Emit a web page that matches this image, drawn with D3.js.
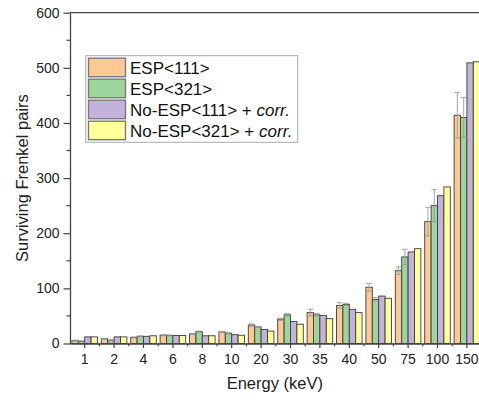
<!DOCTYPE html>
<html><head><meta charset="utf-8">
<script src="https://cdn.jsdelivr.net/npm/d3@7"></script>
<style>
html,body{margin:0;padding:0;background:#fff;}
svg{display:block;font-family:"Liberation Sans",Arial,sans-serif;}
</style></head>
<body><svg id="c" width="479" height="400"></svg>
<script>
const categories = ["1","2","4","6","8","10","20","30","35","40","50","75","100","150"];
const seriesNames = ["ESP<111>","ESP<321>","No-ESP<111> + ","No-ESP<321> + "];
const esp111 = [5, 8.5, 11, 15, 17.3, 21, 33.5, 44, 56, 69, 102, 132, 221, 414];
const esp321 = [4, 6, 13, 14.5, 21.5, 18.5, 30, 52, 52, 71, 80, 157, 250, 410];
const noesp111 = [12, 12, 13, 14.5, 14, 16, 25.5, 40, 51, 62, 86, 166, 268, 509];
const noesp321 = [12, 12, 14, 14.5, 14, 15, 22.5, 35, 45, 56, 82, 172, 284, 511];
const err111 = [1, 1, 1, 1, 1, 1, 2, 2, 6, 5, 7, 7, 26, 41];
const err321 = [1, 1, 1, 1, 1, 1, 1, 2, 2, 2, 3, 14, 29, 36];
const yTicks = [0, 100, 200, 300, 400, 500, 600];
const colors = ["#FFC993", "#9CD69C", "#C5B2DB", "#FFFF9C"];

const values = [esp111, esp321, noesp111, noesp321];
const errors = [err111, err321, null, null];

const svg = d3.select("#c");
const mLeft = 70, mRight = 481.6, mTop = 12.7, mBottom = 343.5;

const x0 = d3.scaleBand().domain(categories).range([mLeft, mRight]).paddingInner(0.13).paddingOuter(0.065);
const x1 = d3.scaleBand().domain(d3.range(4)).range([0, x0.bandwidth()]);
const y = d3.scaleLinear().domain([0, 600]).range([mBottom, mTop]);

// bars
const groups = svg.append("g").selectAll("g").data(categories).join("g")
  .attr("transform", d => `translate(${x0(d)},0)`);
groups.each(function(cat, ci) {
  const g = d3.select(this);
  for (let s = 0; s < 4; s++) {
    const v = values[s][ci];
    g.append("rect")
      .attr("x", x1(s)).attr("width", x1.bandwidth())
      .attr("y", y(v)).attr("height", y(0) - y(v))
      .attr("fill", colors[s]).attr("stroke", "#3c3c3c").attr("stroke-width", 0.9);
  }
  for (let s = 0; s < 2; s++) {
    const v = values[s][ci], e = errors[s][ci];
    const cx = x1(s) + x1.bandwidth() / 2;
    const cw = x1.bandwidth() * 0.45;
    g.append("path")
      .attr("d", `M${cx},${y(v - e)}V${y(v + e)}M${cx - cw},${y(v + e)}H${cx + cw}M${cx - cw},${y(v - e)}H${cx + cw}`)
      .attr("stroke", "#9a9a9a").attr("stroke-width", 0.9).attr("fill", "none");
  }
});

// top frame
svg.append("line").attr("x1", mLeft).attr("x2", mRight).attr("y1", mTop).attr("y2", mTop)
  .attr("stroke", "#444").attr("stroke-width", 1.3);

// y axis
const yAxis = svg.append("g").attr("transform", `translate(${mLeft},0)`)
  .call(d3.axisLeft(y).tickValues(yTicks).tickSize(6.5).tickPadding(4).tickSizeOuter(0));
yAxis.selectAll(".tick text").attr("font-size", 14).attr("fill", "#222").attr("font-family", "Liberation Sans, Arial, sans-serif");
const yMinor = d3.range(50, 600, 100);
yAxis.selectAll(".minor").data(yMinor).join("line").attr("class", "minor")
  .attr("x1", -3.5).attr("x2", 0).attr("y1", d => y(d)).attr("y2", d => y(d))
  .attr("stroke", "#444").attr("stroke-width", 1.2);

// x axis
const xAxis = svg.append("g").attr("transform", `translate(0,${mBottom})`)
  .call(d3.axisBottom(x0).tickSize(4.5).tickPadding(6).tickSizeOuter(0));
xAxis.selectAll(".tick text").attr("font-size", 14).attr("fill", "#222").attr("font-family", "Liberation Sans, Arial, sans-serif");
const bounds = categories.slice(1).map(c => x0(c) - x0.step() * x0.paddingInner() / 2);
xAxis.selectAll(".minor").data(bounds).join("line").attr("class", "minor")
  .attr("x1", d => d).attr("x2", d => d).attr("y1", 0).attr("y2", 2.8)
  .attr("stroke", "#444").attr("stroke-width", 1.2);

[yAxis, xAxis].forEach(a => {
  a.select(".domain").attr("stroke", "#444").attr("stroke-width", 1.3);
  a.selectAll(".tick line").attr("stroke", "#444").attr("stroke-width", 1.2);
});

// axis titles
svg.append("text").attr("transform", `translate(28,${(mTop + mBottom) / 2}) rotate(-90)`)
  .attr("text-anchor", "middle").attr("font-size", 16.5).attr("fill", "#222")
  .text("Surviving Frenkel pairs");
svg.append("text").attr("x", (mLeft + mRight) / 2 - 1).attr("y", 389)
  .attr("text-anchor", "middle").attr("font-size", 16.5).attr("fill", "#222")
  .text("Energy (keV)");

// legend
const lg = svg.append("g");
lg.append("rect").attr("x", 85.7).attr("y", 55.7).attr("width", 212).attr("height", 86.6)
  .attr("fill", "#fff").attr("stroke", "#aaa").attr("stroke-width", 1);
seriesNames.forEach((name, i) => {
  const yy = 58.2 + i * 21;
  lg.append("rect").attr("x", 88.5).attr("y", yy).attr("width", 37).attr("height", 18.5)
    .attr("fill", colors[i]).attr("stroke", "#7a7a7a").attr("stroke-width", 1.4);
  const t = lg.append("text").attr("x", 130).attr("y", yy + 16).attr("font-size", 17).attr("fill", "#111");
  t.append("tspan").text(name);
  if (i >= 2) t.append("tspan").attr("font-style", "italic").text("corr.");
});
</script></body></html>
